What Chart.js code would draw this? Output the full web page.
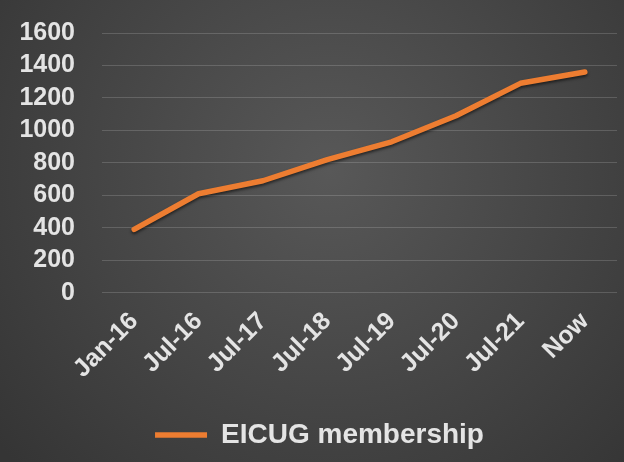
<!DOCTYPE html>
<html>
<head>
<meta charset="utf-8">
<script src="https://cdn.jsdelivr.net/npm/chart.js@4/dist/chart.umd.min.js"></script>
<style>
  html, body { margin: 0; padding: 0; background: #404040; }
  #wrap { width: 624px; height: 462px; }
</style>
</head>
<body>
<div id="wrap"><canvas id="grafico" width="624" height="462"></canvas></div>
<script>
// Dados do gráfico
var categorias = ['Jan-16', 'Jul-16', 'Jul-17', 'Jul-18', 'Jul-19', 'Jul-20', 'Jul-21', 'Now'];
var membros = [390, 610, 690, 820, 930, 1090, 1290, 1360];
var nomeSerie = 'EICUG membership';
var yMax = 1600;
var yPasso = 200;

var corTexto = '#e4e4e4';
var corLinha = '#ED7D31';

// Fundo cinza escuro com gradiente radial
var fundo = {
  id: 'fundo',
  beforeDraw: function (chart) {
    var c = chart.ctx;
    var g = c.createRadialGradient(330, 170, 0, 330, 170, 430);
    g.addColorStop(0, '#585858');
    g.addColorStop(1, '#353535');
    c.save();
    c.fillStyle = g;
    c.fillRect(0, 0, chart.width, chart.height);
    c.restore();
  }
};

// Sombra leve por baixo da linha
var sombra = {
  id: 'sombra',
  beforeDatasetsDraw: function (chart) {
    var c = chart.ctx;
    c.save();
    c.shadowColor = 'rgba(0,0,0,0.55)';
    c.shadowBlur = 3;
    c.shadowOffsetY = 2;
  },
  afterDatasetsDraw: function (chart) {
    chart.ctx.restore();
  }
};

// Empurra a legenda um pouco para a direita
var legendaDireita = {
  id: 'legendaDireita',
  afterLayout: function (chart) {
    if (chart.legend) chart.legend.left += 22;
  }
};

var ctx = document.getElementById('grafico').getContext('2d');

new Chart(ctx, {
  type: 'line',
  data: {
    labels: categorias,
    datasets: [{
      label: nomeSerie,
      data: membros,
      borderColor: corLinha,
      backgroundColor: corLinha,
      borderWidth: 5.5,
      borderCapStyle: 'round',
      borderJoinStyle: 'round',
      pointRadius: 0,
      tension: 0
    }]
  },
  options: {
    responsive: false,
    animation: false,
    layout: { padding: { top: 33, right: 7, bottom: 3, left: 0 } },
    plugins: {
      legend: {
        position: 'bottom',
        labels: {
          color: corTexto,
          font: { family: 'Liberation Sans, Arial', size: 28, weight: 'bold' },
          usePointStyle: true,
          pointStyle: 'line',
          pointStyleWidth: 52,
          padding: 10
        }
      },
      tooltip: { enabled: false }
    },
    scales: {
      x: {
        offset: true,
        grid: { display: false },
        border: { display: false },
        ticks: {
          color: corTexto,
          font: { family: 'Liberation Sans, Arial', size: 25, weight: 'bold' },
          minRotation: 45,
          maxRotation: 45,
          autoSkip: false,
          padding: 6
        },
        afterFit: function (escala) {
          escala.height += 21;
          escala.paddingLeft = 0;
          escala.paddingRight = 0;
        }
      },
      y: {
        min: 0,
        max: yMax,
        grid: { color: 'rgba(255,255,255,0.16)', lineWidth: 1, drawTicks: false },
        border: { display: false },
        ticks: {
          stepSize: yPasso,
          autoSkip: false,
          color: corTexto,
          font: { family: 'Liberation Sans, Arial', size: 25, weight: 'bold' },
          padding: 27,
          callback: function (v) { return String(v); }
        },
        afterFit: function (escala) {
          escala.width = 102;
          escala.paddingTop = 0;
          escala.paddingBottom = 0;
        }
      }
    }
  },
  plugins: [fundo, sombra, legendaDireita]
});
</script>
</body>
</html>
